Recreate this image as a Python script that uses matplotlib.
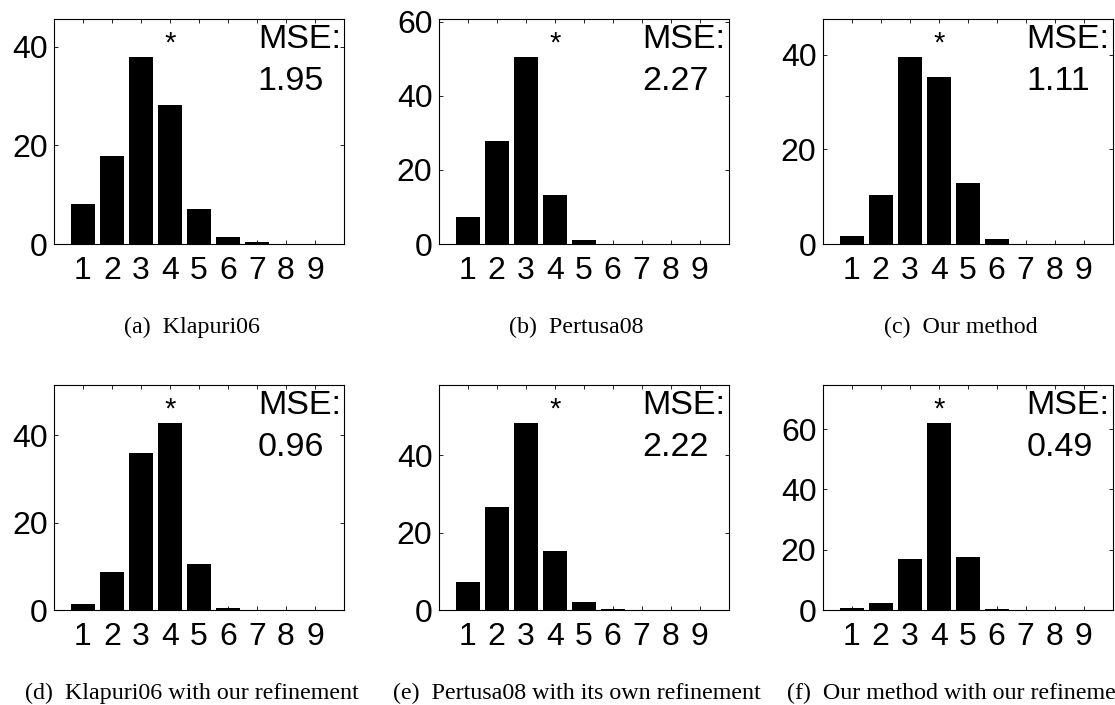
import numpy as np
import matplotlib.pyplot as plt
from matplotlib.ticker import MultipleLocator

# number of notes per frame (1..9), percentage of frames
polyphony = np.arange(1, 10)
counts_a = [8.1, 17.8, 38.0, 28.1, 7.0, 1.4, 0.5, 0, 0]
counts_b = [7.2, 27.8, 50.6, 13.2, 1.1, 0.1, 0, 0, 0]
counts_c = [1.6, 10.3, 39.6, 35.2, 12.9, 1.05, 0, 0, 0]
counts_d = [1.45, 8.7, 36.0, 42.9, 10.6, 0.5, 0, 0, 0]
counts_e = [7.2, 26.5, 48.4, 15.3, 2.1, 0.2, 0.1, 0, 0]
counts_f = [0.55, 2.3, 17.0, 62.2, 17.7, 0.3, 0, 0, 0]
mse_values = ["1.95", "2.27", "1.11", "0.96", "2.22", "0.49"]
true_polyphony = 4
captions = ["(a)  Klapuri06", "(b)  Pertusa08", "(c)  Our method",
            "(d)  Klapuri06 with our refinement",
            "(e)  Pertusa08 with its own refinement",
            "(f)  Our method with our refinement"]

W, H = 1115, 705
plt.rcParams['font.family'] = ['Liberation Sans', 'DejaVu Sans']
fig = plt.figure(figsize=(W / 100, H / 100), dpi=100)

lefts = [54, 438.7, 822.7]
bottoms = [244, 610]
ax_w, ax_h = 290, 225

all_counts = [counts_a, counts_b, counts_c, counts_d, counts_e, counts_f]
for k, counts in enumerate(all_counts):
    row, col = divmod(k, 3)
    x0, yb = lefts[col], bottoms[row]
    ax = fig.add_axes([x0 / W, 1 - yb / H, ax_w / W, ax_h / H])
    ax.bar(polyphony, counts, width=0.82, color='black', edgecolor='none')
    top = max(counts)
    ax.set_xlim(0, 10)
    ax.set_ylim(0, top * 1.2)
    ax.set_xticks(polyphony)
    ax.yaxis.set_major_locator(MultipleLocator(20))
    ax.tick_params(direction='in', top=True, right=True, length=3, width=0.6,
                   labelsize=23)
    ax.tick_params(axis='x', pad=8.5)
    ax.tick_params(axis='y', pad=4.5)
    for s in ax.spines.values():
        s.set_linewidth(0.8)
    # star marks the true polyphony
    ax.text(true_polyphony, top * 1.07, '*', ha='center', va='center', fontsize=21)
    ax.text(0.703, 0.871, 'MSE:', transform=ax.transAxes, ha='left', va='baseline', fontsize=24.5)
    ax.text(0.703, 0.685, mse_values[k], transform=ax.transAxes, ha='left', va='baseline', fontsize=24.5)
    # caption
    cx = x0 + ax_w / 2 - 7
    fig.text(cx / W, 1 - (yb + 89) / H, captions[k], ha='center', va='baseline',
             fontsize=17.3, family=['Liberation Serif', 'DejaVu Serif'])

fig.savefig('out.png', dpi=100)
